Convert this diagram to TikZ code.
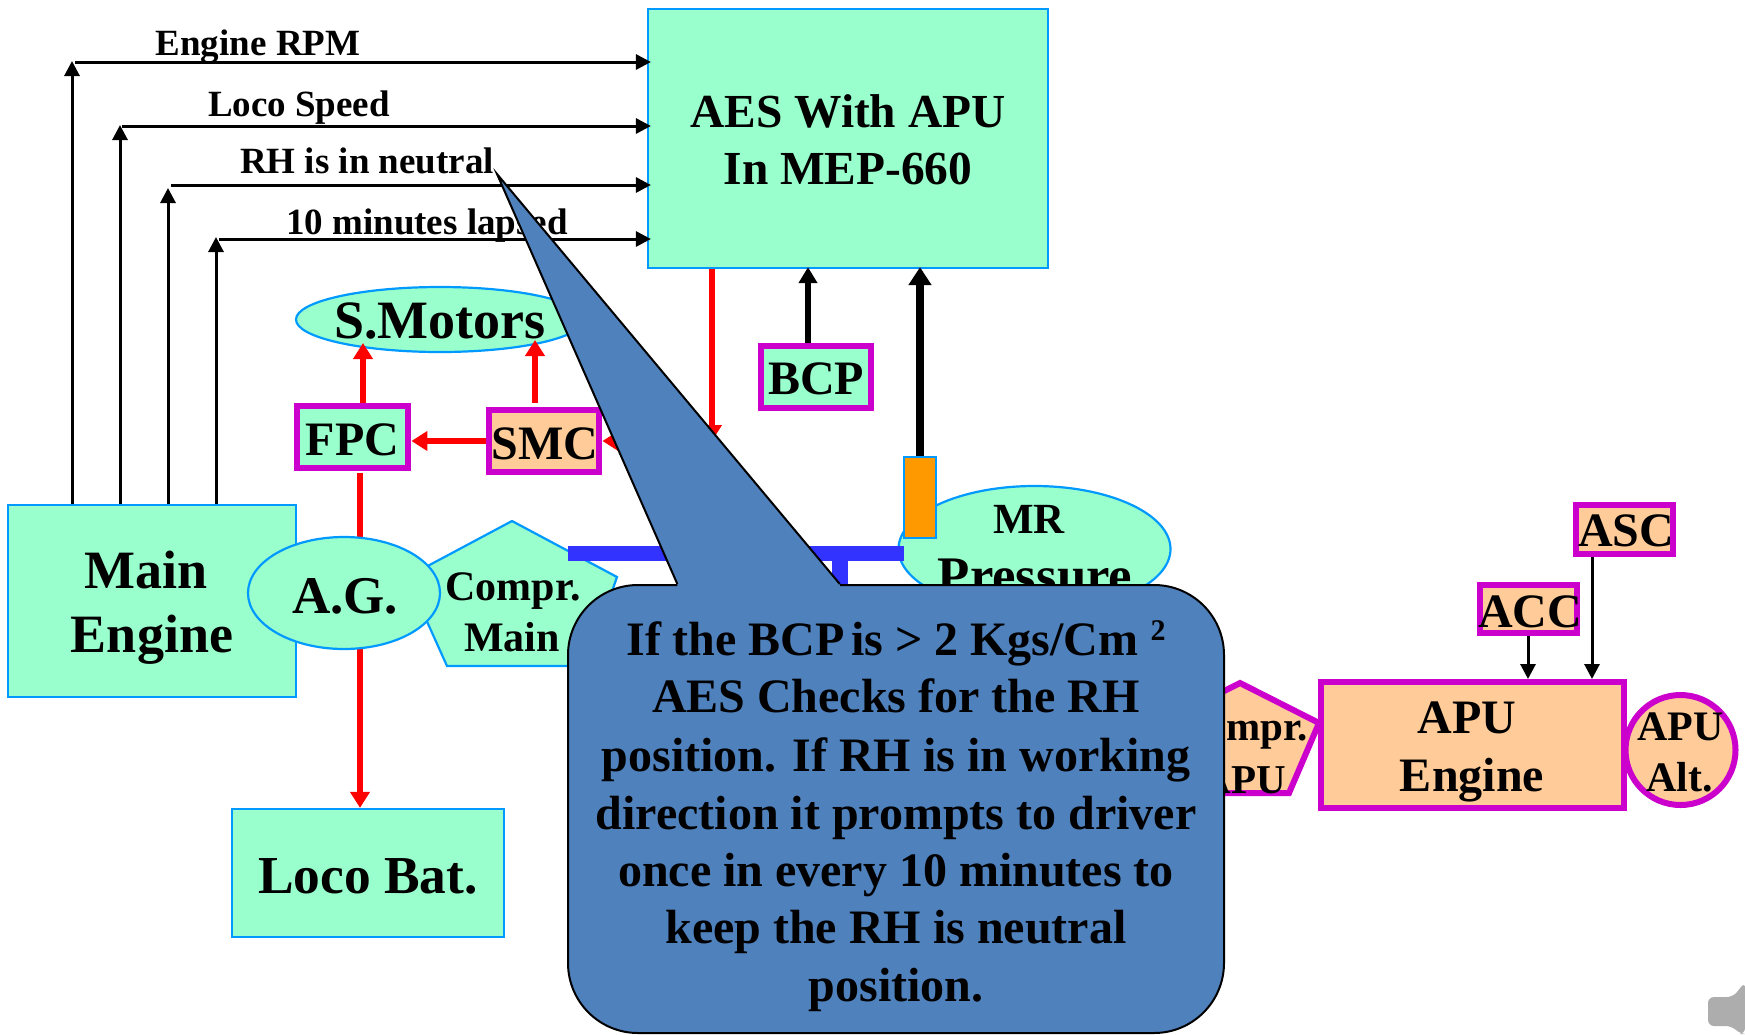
\documentclass[tikz,border=0pt]{standalone}
\usepackage{fontspec}
\setmainfont{Liberation Serif}
\usetikzlibrary{arrows.meta,calc}
% text placed at (dx,dy) px from the centre of its node; dy goes down to the baseline
\newcommand\tx[3]{\raisebox{\dimexpr-#2pt/2\relax}[0pt][0pt]{\makebox[0pt][c]{\kern#1pt #3}}}
\definecolor{mint}{HTML}{99FFCC}
\definecolor{peach}{HTML}{FFCC99}
\definecolor{mag}{HTML}{CC00CC}
\definecolor{edge}{HTML}{0099FF}
\definecolor{bar}{HTML}{3333FF}
\definecolor{orangebox}{HTML}{FF9900}
\definecolor{bubble}{HTML}{4F81BD}
\tikzset{
  x=0.5pt,y=-0.5pt,
  fs/.style={font={\fontsize{#1}{#1}\selectfont\bfseries}},
  sz/.style 2 args={minimum width=#1*0.5pt,minimum height=#2*0.5pt,inner sep=0pt},
  mintbox/.style={draw=edge,fill=mint,line width=1.1pt,rectangle},
  mintell/.style={draw=edge,fill=mint,line width=1.1pt,ellipse},
  magmint/.style={draw=mag,fill=mint,line width=3.4pt,rectangle},
  magpeach/.style={draw=mag,fill=peach,line width=3pt,rectangle},
  lbl/.style={anchor=base,inner sep=0pt,text=black},
  sig/.style={line width=1.5pt,-{Triangle[length=7.5pt,width=7.5pt]}},
  redar/.style={draw=red,line width=2.8pt,-{Triangle[length=8pt,width=9.5pt]}},
  bcpar/.style={line width=2.6pt,shorten >=-1pt,-{Triangle[length=8pt,width=9pt]}},
  mrar/.style={line width=4pt,shorten >=-1pt,-{Triangle[length=9pt,width=11pt]}},
  blk/.style={fill=bubble,draw=black,line width=1pt},
}
\usetikzlibrary{shapes.geometric}
\begin{document}
\begin{tikzpicture}
\useasboundingbox (0,0) rectangle (1745,1034);

% ---- top box and main engine
\node[mintbox,sz={400}{259},fs=23.7] (aes) at (848,138.5) {\tx{0}{-11.5}{AES With APU}\tx{0}{46}{In MEP-660}};
\node[mintbox,sz={288}{192},fs=27] (me) at (152,601) {\tx{-6}{-13}{Main}\tx{0}{51}{Engine}};

% ---- signal lines
\coordinate (u1) at (72,61);  \coordinate (h1) at (75,62);
\coordinate (u2) at (120,125); \coordinate (h2) at (122,126);
\coordinate (u3) at (168,188); \coordinate (h3) at (171,185);
\coordinate (u4) at (216,237); \coordinate (h4) at (219,239);
\foreach \i in {1,2,3,4}{
  \draw[sig] (me.north -| u\i) -- (u\i);
  \draw[sig,shorten >=-2pt] (h\i) -- (h\i -| aes.west);
}
\node[lbl,fs=18.5] (t1) at (258,55) {Engine RPM};
\node[lbl,fs=18.5] (t2) at (299,116) {Loco Speed};
\node[lbl,fs=18.5] (t3) at (367,173) {RH is in neutral};
\node[lbl,fs=18.5] (t4) at (427,234) {10 minutes lapsed};

% ---- traction side
\node[mintell,sz={288}{65},fs=27] (sm) at (440,319.5) {\tx{0}{18.5}{S.Motors}};
\node[magmint,sz={111}{62},fs=24] (fpc) at (352.5,437) {\tx{0}{18}{FPC}};
\node[magpeach,line width=3.4pt,sz={110}{62},fs=24] (smc) at (544,441) {\tx{1}{18}{SMC}};
\node[magmint,sz={110}{62},fs=24] (bcp) at (816,377) {\tx{0}{17}{BCP}};
\node[mintbox,sz={272}{128},fs=26.7] (bat) at (368,873) {\tx{0}{20}{Loco Bat.}};

\coordinate (fs) at (363,343);
\coordinate (ss) at (535,340);
\coordinate (fl) at (360,0);
\coordinate (aesd) at (712,0);
\coordinate (hid) at (712,441);
\draw[redar] (fpc.north -| fs) -- (fs);
\draw[redar] ([yshift=2pt]smc.north -| ss) -- (ss);
\draw[redar] (smc.west) -- (smc.west -| fpc.east);
\draw[redar] ([yshift=-1pt]fpc.south -| fl) -- (bat.north -| fl);
\draw[redar] (aes.south -| aesd) -- (hid);
\draw[redar] (hid) -- (smc.east);
\draw[bcpar] (bcp.north -| 808,0) -- (aes.south -| 808,0);

% ---- main alternator / compressor
\draw[draw=edge,fill=mint,line width=1.1pt] (512,521) -- (617,577) -- (586,666) -- (447,666) -- (407,577) -- cycle;
\node[sz={10}{10},fs=21] (cm) at (512,600) {\tx{1}{0}{Compr.}\tx{0}{51}{Main}};
\node[mintell,sz={192}{112},fs=26.5] (ag) at (344,593) {\tx{1}{20}{A.G.}};

% ---- MR pressure and bus
\node[mintell,sz={272}{126}] (mr) at (1034.5,549) {};
\node[lbl,fs=21.5] (mrt) at (1029,533) {MR};
\node[lbl,fs=26.4] (prt) at (1035,593) {Pressure};
\node[fill=bar,sz={336}{15}] (busbar) at (736,553) {};
\node[fill=bar,sz={16}{35}] (stem) at (840,577) {};
\node[draw=edge,fill=orangebox,line width=1.1pt,sz={32}{81}] (pg) at (920,497.5) {};
\draw[mrar] (pg.north) -- (aes.south -| pg.north);

% ---- APU side
\node[draw=mag,fill=peach,line width=3pt,circle,sz={110}{110}] (alt) at (1680.5,750) {};
\node[magpeach,sz={303}{126},fs=24] (apu) at (1472,745) {\tx{-5}{-12}{APU}\tx{0}{46}{Engine}};
\draw[draw=mag,fill=peach,line width=3pt] (1240,683) -- (1319,723) -- (1289,793) -- (1191,793) -- (1161,723) -- cycle;
\node[sz={10}{10},fs=20.5] (ca) at (1240,740) {\tx{2}{0}{Compr.}\tx{4}{53}{APU}};
\node[sz={10}{10},fs=21] (altt) at (1680.5,750) {\tx{0}{-10}{APU}\tx{-1}{41}{Alt.}};
\node[magpeach,sz={97}{48},fs=24] (acc) at (1528,608.5) {\tx{2}{18.5}{ACC}};
\node[magpeach,sz={97}{49},fs=24] (asc) at (1624,529) {\tx{2}{17.5}{ASC}};
\draw[sig] (acc.south) -- (apu.north -| acc.south);
\coordinate (ascx) at (1592,0);
\draw[sig] (asc.south -| ascx) -- (apu.north -| ascx);

% ---- speaker icon
\fill[fill=black!32,rounded corners=3pt] (1708,997) -- (1733,997) -- (1745,982) -- (1745,1034) -- (1740,1034) -- (1732,1026) -- (1708,1026) -- cycle;

% ---- callout
\coordinate (tip) at (497,174);
\node[blk,rectangle,rounded corners=35pt,sz={656}{448},fs=24] (co) at (896,809) {\tx{0}{-154}{If the BCP\kern-.12em\ is > 2 Kgs/Cm \raisebox{.3em}{\fontsize{15}{15}\selectfont 2}}\tx{0}{-96.5}{AES Checks for the RH}\tx{0}{-38}{position. If RH is in working}\tx{0}{20}{direction it prompts to driver}\tx{0}{77}{once in every 10 minutes to}\tx{0}{134}{keep the RH is neutral}\tx{0}{192}{position.}};
\coordinate (wl) at ($(co.north west)!0.1677!(co.north east)$);
\coordinate (wr) at ($(co.north west)!0.4146!(co.north east)$);
\fill[bubble] ($(wl)+(0,4)$) -- (wl) -- (tip) -- (wr) -- ($(wr)+(0,4)$) -- cycle;
\draw[black,line width=1pt,line join=miter] (wl) -- (tip) -- (wr);
\end{tikzpicture}
\end{document}
